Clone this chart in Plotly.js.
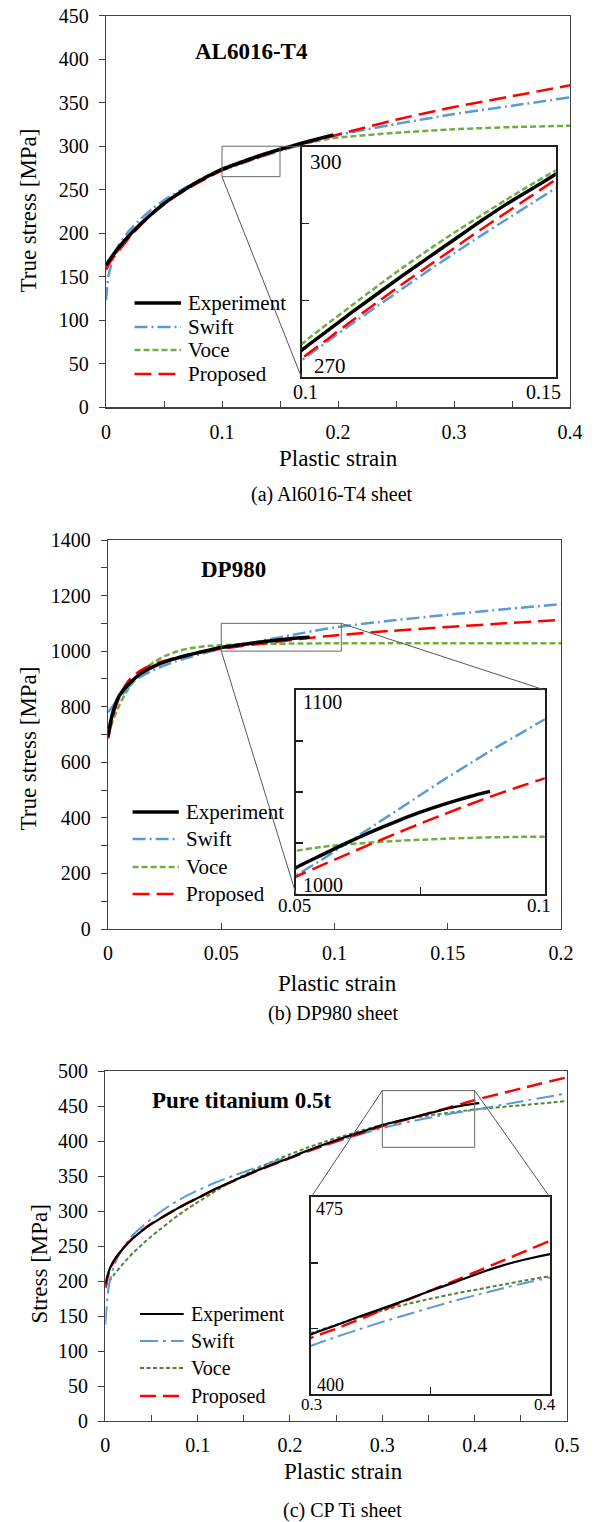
<!DOCTYPE html>
<html><head><meta charset="utf-8">
<script src="https://cdn.plot.ly/plotly-3.0.1.min.js"></script>
<style>html,body{margin:0;padding:0;background:#fff}#chart{width:595px;height:1522px}</style>
</head><body><div id="chart"></div>
<script>
// ---------------- DATA ----------------
// (a) AL6016-T4
const a_exp_x = [0,0.005,0.01,0.02,0.03,0.04,0.05,0.06,0.07,0.08,0.09,0.1,0.105,0.11,0.115,0.12,0.125,0.13,0.135,0.14,0.145,0.15,0.16,0.17,0.18,0.19,0.196];
const a_exp_y = [163.5,173,182,197.5,211,223,234,243.5,252,260,267,273.5,276.0,278.5,280.9,283.3,285.6,287.9,290.2,292.4,294.4,296.4,300.2,304.0,307.5,311.0,313.0];
const a_mod_x = [0,0.002,0.005,0.01,0.02,0.03,0.04,0.05,0.06,0.07,0.08,0.09,0.1,0.105,0.11,0.115,0.12,0.125,0.13,0.135,0.14,0.145,0.15,0.16,0.17,0.18,0.19,0.2,0.25,0.3,0.35,0.4];
const a_swift = [123,150,166,184,203,216.5,228,238,246,253.5,260.5,266.5,272.2,274.6,277.0,279.3,281.6,283.9,286.1,288.3,290.4,292.5,294.6,298.5,302.3,306.0,309.5,313.0,325.5,337.0,346.5,356.2];
const a_voce  = [160,165,171,179,195.5,210,222.5,234,244,252.5,261,268,274.3,276.9,279.4,281.9,284.3,286.6,288.8,290.9,293.0,295.0,296.9,300.0,302.9,305.5,307.9,310.0,315.5,319.5,322.0,323.5];
const a_prop  = [158,163,170,178,195,209.5,222,233,242.5,251,258.5,265.5,272.4,274.9,277.4,279.8,282.2,284.5,286.8,289.1,291.3,293.5,295.7,299.5,303.0,306.5,310.0,313.5,330.5,345.0,357.5,370.0];

// (b) DP980
const b_exp_x = [0,0.001,0.0025,0.005,0.0075,0.01,0.0125,0.015,0.02,0.025,0.03,0.035,0.04,0.045,0.05,0.055,0.06,0.065,0.07,0.075,0.08,0.085,0.089];
const b_exp_y = [692,740,790,840,867,888,907,922,944,961,974,985,995,1004.5,1012.9,1018.9,1024.8,1030.3,1035.4,1040.1,1044.2,1047.8,1050.3];
const b_mod_x = [0,0.0025,0.005,0.0075,0.01,0.0125,0.015,0.02,0.025,0.03,0.035,0.04,0.045,0.05,0.055,0.06,0.065,0.07,0.075,0.08,0.085,0.09,0.095,0.1,0.125,0.15,0.175,0.2];
const b_swift = [780,806,830,856,879,899,911,931,949,963,976,987.5,998.5,1009,1016.5,1024.5,1032.5,1040.5,1048.5,1056.5,1064,1071.5,1078.5,1085.5,1110,1131,1151,1169];
const b_voce  = [700,758,805,845,876,903,926,959,982,998,1008.5,1015,1019,1021.2,1023,1024.3,1025.2,1026,1026.6,1027.1,1027.5,1027.8,1028,1028.1,1028.3,1028.4,1028.5,1028.5];
const b_prop  = [685,775,835,875,902,920,934,953,965.5,976,985.5,994,1001.5,1008.5,1013.9,1019.2,1024.4,1029.5,1034.5,1039.3,1044,1048.5,1052.7,1056.7,1073,1087,1100,1112];

// (c) CP Ti
const c_exp_x = [0,0.0025,0.005,0.01,0.02,0.03,0.04,0.05,0.06,0.07,0.08,0.09,0.1,0.12,0.14,0.16,0.18,0.2,0.22,0.24,0.26,0.28,0.3,0.31,0.32,0.33,0.34,0.35,0.36,0.37,0.38,0.39,0.4,0.405];
const c_exp_y = [196,208,218,230.5,247.5,261,272,281.5,289.5,297.5,305,312,318.5,332,344,355.5,366,376,386.8,396.5,405.6,414,422.8,426.1,429.5,432.7,436.0,439.4,442.6,446.0,449.0,451.4,453.4,454.2];
const c_mod_x = [0,0.0025,0.005,0.01,0.02,0.03,0.04,0.05,0.06,0.07,0.08,0.09,0.1,0.12,0.14,0.16,0.18,0.2,0.22,0.24,0.26,0.28,0.3,0.31,0.32,0.33,0.34,0.35,0.36,0.37,0.38,0.39,0.4,0.45,0.5];
const c_swift = [138,180,201,224,249,266,278,289,299,308,316,323,329.5,341,351,360.5,369.5,378,386.5,394.5,403,411,418.5,421.7,424.7,427.6,430.3,433.0,435.6,438.0,440.3,442.5,444.5,456.5,468];
const c_voce  = [192,196.5,201,210,226,240,252.5,264,274.5,285,295,304,312.5,329,344.5,358,370,381,391,400,408,415.8,423.2,426.3,429.2,431.9,434.3,436.4,438.3,440.0,441.7,443.4,445.0,451,457];
const c_prop  = [190,205,216,230,248,261.5,272.5,282,290,297.5,305,312,318.5,331.5,343.5,355,365.5,375.5,385.5,395,404,412.5,421.5,424.8,428.4,432.1,435.8,439.5,443.2,447.0,450.8,454.6,458.4,475,491];

const seriesNames = ['Experiment','Swift','Voce','Proposed'];
const panelTitles = ['AL6016-T4','DP980','Pure titanium 0.5t'];
const captions = ['(a) Al6016-T4 sheet','(b) DP980 sheet','(c) CP Ti sheet'];
const yTitles = ['True stress [MPa]','True stress [MPa]','Stress [MPa]'];
const xTitle = 'Plastic strain';
const insetLabels = [['300','270','0.1','0.15'],['1100','1000','0.05','0.1'],['475','400','0.3','0.4']];

// ---------------- LAYOUT HELPERS ----------------
const W = 595, H = 1522;
const X = p => p / W;
const Y = p => 1 - p / H;
const FONT = 'Liberation Serif';
const BLUE = '#5B9BD5', GREEN = '#70AD47', GREEN_C = '#548235', RED = '#FF0000';
const AXC = '#404040', INC = '#1e1e1e';

const STY_AB = {
  exp:   {color:'#000', width:3.5, dash:'solid'},
  swift: {color:BLUE, width:2.5, dash:'13px,4px,2px,4px'},
  voce:  {color:GREEN, width:2.5, dash:'6px,3px'},
  prop:  {color:RED, width:2.5, dash:'17px,7px'}
};
const STY_C = {
  exp:   {color:'#000', width:2.2, dash:'solid'},
  swift: {color:BLUE, width:2, dash:'18px,5px,3px,5px'},
  voce:  {color:GREEN_C, width:2, dash:'4px,2.5px'},
  prop:  {color:RED, width:2.5, dash:'16px,7px'}
};

function tr(x, y, st, xa, ya) {
  return {type:'scatter', mode:'lines', x:x, y:y, xaxis:xa, yaxis:ya,
    line:Object.assign({shape:'spline', smoothing:0.5}, st), showlegend:false, hoverinfo:'skip'};
}

// panel geometry in pixels
const G = [
  {main:{l:106, r:570, t:15.7, b:407.3, xr:[0,0.4], yr:[0,450], xd:0.1, xm:0.05, yd:50, ym:null},
   ins:{l:301.5, r:555.7, t:146.7, b:377.3, xr:[0.1,0.15], yr:[270,300], xt:[], yt:[280,290]}},
  {main:{l:108, r:561, t:540, b:929, xr:[0,0.2], yr:[0,1400], xd:0.05, xm:null, yd:200, ym:100},
   ins:{l:296, r:544.7, t:690, b:894, xr:[0.05,0.1], yr:[1000,1100], xt:[0.075], yt:[1025,1050,1075]}},
  {main:{l:105.3, r:567, t:1071, b:1421, xr:[0,0.5], yr:[0,500], xd:0.1, xm:0.05, yd:50, ym:null},
   ins:{l:311, r:550, t:1197.3, b:1394.3, xr:[0.3,0.4], yr:[400,475], xt:[0.35], yt:[425,450]}}
];

const layout = {
  width:W, height:H, margin:{l:0,r:0,t:0,b:0},
  paper_bgcolor:'#fff', plot_bgcolor:'#fff', showlegend:false,
  font:{family:FONT, color:'#000'},
  shapes:[], annotations:[]
};

G.forEach((g, i) => {
  const m = g.main, n = g.ins;
  const mx = 'xaxis' + (2*i+1 === 1 ? '' : 2*i+1), my = 'yaxis' + (2*i+1 === 1 ? '' : 2*i+1);
  const ix = 'xaxis' + (2*i+2), iy = 'yaxis' + (2*i+2);
  const mxr = 'x' + (2*i+1 === 1 ? '' : 2*i+1), myr = 'y' + (2*i+1 === 1 ? '' : 2*i+1);
  const ixr = 'x' + (2*i+2), iyr = 'y' + (2*i+2);
  layout[mx] = {domain:[X(m.l), X(m.r)], range:m.xr, anchor:myr, tick0:0, dtick:m.xd,
    ticks:'inside', ticklen:6, tickwidth:1, tickcolor:AXC,
    showline:true, mirror:true, linecolor:AXC, linewidth:1.2, showgrid:false, zeroline:false,
    tickfont:{family:FONT, size:20, color:'#000'}, ticklabelstandoff:6, fixedrange:true};
  if (m.xm) layout[mx].minor = {dtick:m.xm, tick0:0, ticks:'inside', ticklen:6, tickwidth:1, tickcolor:AXC, showgrid:false};
  layout[my] = {domain:[Y(m.b), Y(m.t)], range:m.yr, anchor:mxr, tick0:0, dtick:m.yd,
    ticks:'outside', ticklen:6, tickwidth:1, tickcolor:AXC,
    showline:true, mirror:true, linecolor:AXC, linewidth:1.2, showgrid:false, zeroline:false,
    tickfont:{family:FONT, size:20, color:'#000'}, ticklabelstandoff:6, fixedrange:true};
  if (m.ym) layout[my].minor = {dtick:m.ym, tick0:0, ticks:'outside', ticklen:6, tickwidth:1, tickcolor:AXC, showgrid:false};
  layout[ix] = {domain:[X(n.l), X(n.r)], range:n.xr, anchor:iyr, tickmode:'array', tickvals:n.xt,
    ticks:n.xt.length ? 'inside' : '', ticklen:7, tickwidth:1.5, tickcolor:INC, showticklabels:false,
    showline:true, mirror:true, linecolor:INC, linewidth:2, showgrid:false, zeroline:false, fixedrange:true};
  layout[iy] = {domain:[Y(n.b), Y(n.t)], range:n.yr, anchor:ixr, tickmode:'array', tickvals:n.yt,
    ticks:'inside', ticklen:7, tickwidth:1.5, tickcolor:INC, showticklabels:false,
    showline:true, mirror:true, linecolor:INC, linewidth:2, showgrid:false, zeroline:false, fixedrange:true};
});

// data -> pixel for main axes
function mpx(i, x, y) {
  const m = G[i].main;
  return [m.l + (x - m.xr[0]) / (m.xr[1] - m.xr[0]) * (m.r - m.l),
          m.b - (y - m.yr[0]) / (m.yr[1] - m.yr[0]) * (m.b - m.t)];
}
function seg(p, q) {
  layout.shapes.push({type:'line', xref:'paper', yref:'paper', x0:X(p[0]), y0:Y(p[1]), x1:X(q[0]), y1:Y(q[1]),
    line:{color:'#555', width:1}, layer:'above'});
}
// zoom boxes
const boxes = [
  {xref:'x', yref:'y', x0:0.1, x1:0.15, y0:265, y1:300},
  {xref:'x3', yref:'y3', x0:0.05, x1:0.103, y0:1000, y1:1100},
  {xref:'x5', yref:'y5', x0:0.3, x1:0.4, y0:391, y1:472}
];
boxes.forEach(b => layout.shapes.push(Object.assign({type:'rect', line:{color:'#666', width:1}, layer:'above'}, b)));
// connectors
seg(mpx(0, 0.15, 300), [G[0].ins.l, G[0].ins.t]);
seg(mpx(0, 0.1, 265), [G[0].ins.l, G[0].ins.b]);
seg(mpx(1, 0.103, 1100), [G[1].ins.r, G[1].ins.t]);
seg(mpx(1, 0.05, 1000), [G[1].ins.l, G[1].ins.b]);
seg(mpx(2, 0.3, 472), [G[2].ins.l, G[2].ins.t]);
seg(mpx(2, 0.4, 472), [G[2].ins.r, G[2].ins.t]);

function ann(text, px, py, size, xanchor, extra) {
  layout.annotations.push(Object.assign({text:text, x:X(px), y:Y(py), xref:'paper', yref:'paper',
    xanchor:xanchor || 'left', yanchor:'middle', showarrow:false,
    font:{family:FONT, size:size, color:'#000'}}, extra || {}));
}

// titles
ann('<b>' + panelTitles[0] + '</b>', 193, 51.7, 23);
ann('<b>' + panelTitles[1] + '</b>', 199, 570, 23);
ann('<b>' + panelTitles[2] + '</b>', 149.6, 1100, 23);
// axis titles
ann(yTitles[0], 27.5, 211, 23, 'center', {textangle:-90});
ann(yTitles[1], 27.5, 749, 23, 'center', {textangle:-90});
ann(yTitles[2], 38.5, 1264, 23, 'center', {textangle:-90});
ann(xTitle, 338.5, 458, 23, 'center');
ann(xTitle, 337.7, 983, 23, 'center');
ann(xTitle, 343.7, 1471.7, 23, 'center');
// captions
ann(captions[0], 332, 494, 20, 'center');
ann(captions[1], 333, 1013, 20, 'center');
ann(captions[2], 342, 1510, 20, 'center');
// inset labels
const insPos = [
  {s:21, ty:[307.7,161.7], by:[311.7,366], lx:[305.8,391.7], rx:[543.6,391.7]},
  {s:20, ty:[300.7,701.7], by:[300.7,885], lx:[294,905.7], rx:[538.8,905.7]},
  {s:18, ty:[313.7,1208.7], by:[315.3,1384.7], lx:[311.6,1404.3], rx:[544.7,1404.3]}
];
insPos.forEach((p, i) => {
  const L = insetLabels[i];
  ann(L[0], p.ty[0], p.ty[1], p.s, 'left');
  ann(L[1], p.by[0], p.by[1], p.s, 'left');
  ann(L[2], p.lx[0], p.lx[1], p.s - 1, 'center');
  ann(L[3], p.rx[0], p.rx[1], p.s - 1, 'center');
});
// legends
const legs = [
  {x0:134.5, x1:181, tx:185.6, rows:[303,327,350,374], s:21, sty:STY_AB},
  {x0:132.6, x1:178.8, tx:183.7, rows:[812,839,867,894], s:21, sty:STY_AB},
  {x0:140, x1:183.7, tx:188.6, rows:[1314,1341,1368,1396], s:20, sty:STY_C}
];
legs.forEach(l => {
  const keys = ['exp','swift','voce','prop'];
  keys.forEach((k, j) => {
    const st = l.sty[k];
    layout.shapes.push({type:'line', xref:'paper', yref:'paper', x0:X(l.x0), x1:X(l.x1), y0:Y(l.rows[j]), y1:Y(l.rows[j]),
      line:{color:st.color, width:st.width, dash:st.dash}});
    ann(seriesNames[j], l.tx, l.rows[j], l.s, 'left');
  });
});

// ---------------- TRACES ----------------
const data = [];
const sets = [
  {ex:a_exp_x, ey:a_exp_y, mx:a_mod_x, sw:a_swift, vo:a_voce, pr:a_prop, sty:STY_AB},
  {ex:b_exp_x, ey:b_exp_y, mx:b_mod_x, sw:b_swift, vo:b_voce, pr:b_prop, sty:STY_AB},
  {ex:c_exp_x, ey:c_exp_y, mx:c_mod_x, sw:c_swift, vo:c_voce, pr:c_prop, sty:STY_C}
];
sets.forEach((s, i) => {
  [[2*i+1, 2*i+1], [2*i+2, 2*i+2]].forEach(([a, b]) => {
    const xa = 'x' + (a === 1 ? '' : a), ya = 'y' + (b === 1 ? '' : b);
    data.push(tr(s.mx, s.vo, s.sty.voce, xa, ya));
    data.push(tr(s.mx, s.sw, s.sty.swift, xa, ya));
    data.push(tr(s.mx, s.pr, s.sty.prop, xa, ya));
    data.push(tr(s.ex, s.ey, s.sty.exp, xa, ya));
  });
});

Plotly.newPlot('chart', data, layout, {staticPlot:true, displayModeBar:false});
</script></body></html>
